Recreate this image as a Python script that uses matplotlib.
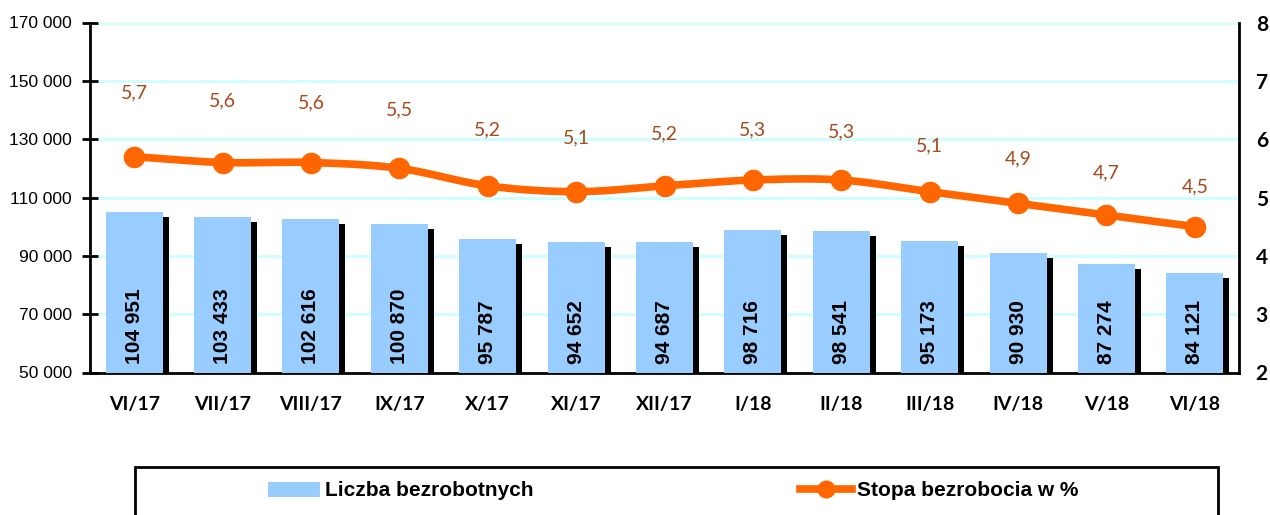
import matplotlib
matplotlib.use("Agg")
import matplotlib.pyplot as plt
import matplotlib.transforms as mtransforms
from matplotlib.patches import Patch, Rectangle
from matplotlib.lines import Line2D
import numpy as np

categories = ["VI/17", "VII/17", "VIII/17", "IX/17", "X/17", "XI/17", "XII/17",
              "I/18", "II/18", "III/18", "IV/18", "V/18", "VI/18"]
unemployed = [104951, 103433, 102616, 100870, 95787, 94652, 94687,
              98716, 98541, 95173, 90930, 87274, 84121]
rate = [5.7, 5.6, 5.6, 5.5, 5.2, 5.1, 5.2, 5.3, 5.3, 5.1, 4.9, 4.7, 4.5]
left_ticks = [50000, 70000, 90000, 110000, 130000, 150000, 170000]
right_ticks = [2, 3, 4, 5, 6, 7, 8]

ARIAL = "Liberation Sans"
CAL = "Lato"

BAR = "#99CCFF"
ORANGE = "#FF6600"
LABEL = "#A8491C"
GRID = "#CCFFFF"

W, H = 1270, 515
fig = plt.figure(figsize=(W / 100, H / 100), dpi=100)
ax = fig.add_axes([90 / W, 1 - 372.5 / H, (1239 - 90) / W, (372.5 - 22.5) / H])
ax2 = ax.twinx()
ax.set_zorder(1)
ax2.set_zorder(2)
ax2.patch.set_visible(False)

x = np.arange(len(categories))
bw = 0.645

# shadow bars
shadow_tr = ax.transData + mtransforms.ScaledTranslation(6 / 100, -5 / 100, fig.dpi_scale_trans)
ax.bar(x, unemployed, width=bw, color="black", transform=shadow_tr, zorder=2)
ax.bar(x, unemployed, width=bw, color=BAR, zorder=3)

ax.set_ylim(50000, 170000)
ax.set_xlim(-0.5, 12.5)
ax.set_yticks(left_ticks)
ax.set_yticklabels([f"{v:,}".replace(",", " ") for v in left_ticks],
                   fontfamily=ARIAL, fontsize=12.5)
ax.yaxis.grid(True, color=GRID, linewidth=2)
ax.set_axisbelow(True)
ax.tick_params(axis="y", direction="inout", length=12, width=2, pad=7)
ax.set_xticks(x)
ax.set_xticklabels(categories, fontfamily=CAL, fontweight="bold", fontsize=14)
ax.tick_params(axis="x", length=0, pad=17)

ax.spines["top"].set_visible(False)
ax2.spines["top"].set_visible(False)
ax.spines["left"].set_linewidth(2)
ax.spines["bottom"].set_linewidth(2)
ax.spines["right"].set_visible(False)
ax2.spines["left"].set_visible(False)
ax2.spines["bottom"].set_visible(False)
ax2.spines["right"].set_linewidth(2)

# bar value labels
for xi, v in zip(x, unemployed):
    ax.annotate(f"{v:,}".replace(",", " "), (xi, 50000), xytext=(0, 9),
                textcoords="offset pixels", rotation=90, ha="center", va="bottom",
                fontfamily=ARIAL, fontweight="bold", fontsize=15, zorder=5)

# smoothed line (Catmull-Rom through the data points)
def smooth(xs, ys, n=24):
    xs = np.asarray(xs, float); ys = np.asarray(ys, float)
    px = np.concatenate([[2 * xs[0] - xs[1]], xs, [2 * xs[-1] - xs[-2]]])
    py = np.concatenate([[2 * ys[0] - ys[1]], ys, [2 * ys[-1] - ys[-2]]])
    ox, oy = [], []
    for i in range(1, len(px) - 2):
        t = np.linspace(0, 1, n, endpoint=False)
        for P, out in ((px, ox), (py, oy)):
            p0, p1, p2, p3 = P[i - 1], P[i], P[i + 1], P[i + 2]
            out.extend(0.5 * ((2 * p1) + (-p0 + p2) * t + (2 * p0 - 5 * p1 + 4 * p2 - p3) * t ** 2
                              + (-p0 + 3 * p1 - 3 * p2 + p3) * t ** 3))
    ox.append(xs[-1]); oy.append(ys[-1])
    return np.array(ox), np.array(oy)

sx, sy = smooth(x, rate)
ax2.plot(sx, sy, color=ORANGE, linewidth=5.5, solid_capstyle="round", zorder=3)
ax2.plot(x, rate, "o", color=ORANGE, markersize=14.5, zorder=4)
ax2.set_ylim(2, 8)
ax2.set_yticks(right_ticks)
ax2.set_yticklabels([str(t) for t in right_ticks], fontfamily=CAL, fontweight="bold", fontsize=15)
ax2.tick_params(axis="y", length=0, pad=12)

for i, (xi, r) in enumerate(zip(x, rate)):
    ax2.annotate(f"{r:.1f}".replace(".", ","), (xi, r), xytext=(0, 64 - 2 * i),
                 textcoords="offset pixels", ha="center", va="center",
                 fontfamily=CAL, fontsize=14, color=LABEL)

# legend frame
fig.patches.append(Rectangle((135 / W, -0.05), (1218 - 135) / W, 1 - 467 / H + 0.05,
                             transform=fig.transFigure, fill=False, edgecolor="black",
                             linewidth=2, clip_on=False))
lp = dict(family=ARIAL, weight="bold", size=15)
fig.legend(handles=[Patch(facecolor=BAR, edgecolor="none")], labels=["Liczba bezrobotnych"],
           loc="center left", bbox_to_anchor=(268 / W, 1 - 491 / H), frameon=False,
           prop=lp, borderpad=0, borderaxespad=0, handlelength=2.5, handleheight=0.75,
           handletextpad=0.25)
fig.legend(handles=[Line2D([], [], color=ORANGE, linewidth=5.5, marker="o", markersize=12)],
           labels=["Stopa bezrobocia w %"],
           loc="center left", bbox_to_anchor=(800 / W, 1 - 491 / H), frameon=False,
           prop=lp, borderpad=0, borderaxespad=0, handlelength=2.5,
           handletextpad=0.25)

fig.savefig("out.png", dpi=100)
